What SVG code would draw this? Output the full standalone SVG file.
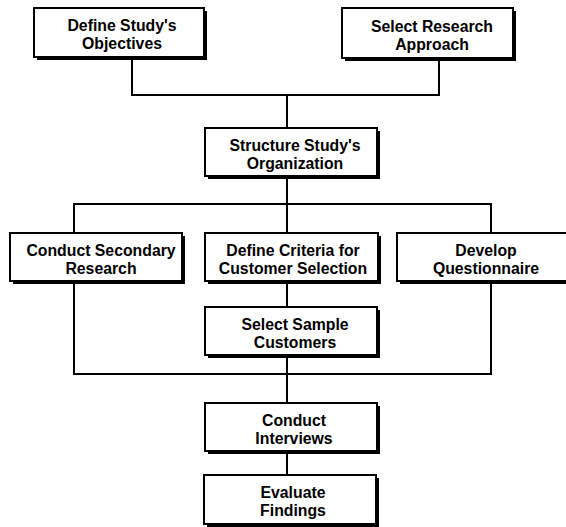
<svg xmlns="http://www.w3.org/2000/svg" width="566" height="527" viewBox="0 0 566 527">
<style>
.sh{fill:#000}
.bx{fill:#fff;stroke:#000;stroke-width:2}
.t{font-family:"Liberation Sans",Arial,sans-serif;font-weight:bold;font-size:15.8px;fill:#000;text-anchor:middle}
.c{fill:none;stroke:#000;stroke-width:2}
</style>
<rect width="566" height="527" fill="#fff"/>
<g id="connectors">
<path class="c" d="M132 58V95H439V59M287 95V127"/>
<path class="c" d="M287 177V232M74 232V204H491V232"/>
<path class="c" d="M74 282V374H491V282M287 282V306M287 356V402M287 452V474"/>
</g>
<g id="n1"><rect class="sh" x="37" y="11" width="170" height="49"/><rect class="bx" x="34" y="8" width="170" height="49"/>
<text class="t" x="122" y="31">Define Study's</text><text class="t" x="122" y="49">Objectives</text></g>
<g id="n2"><rect class="sh" x="345" y="11" width="171" height="50"/><rect class="bx" x="342" y="8" width="171" height="50"/>
<text class="t" x="432" y="31.5">Select Research</text><text class="t" x="432" y="49.5">Approach</text></g>
<g id="n3"><rect class="sh" x="208" y="131" width="172" height="48"/><rect class="bx" x="205" y="128" width="172" height="48"/>
<text class="t" x="295" y="150.5">Structure Study's</text><text class="t" x="295" y="168.5">Organization</text></g>
<g id="n4"><rect class="sh" x="13" y="236" width="172" height="48"/><rect class="bx" x="10" y="233" width="172" height="48"/>
<text class="t" x="101" y="255.5">Conduct Secondary</text><text class="t" x="101" y="273.5">Research</text></g>
<g id="n5"><rect class="sh" x="208" y="236" width="173" height="48"/><rect class="bx" x="205" y="233" width="173" height="48"/>
<text class="t" x="293" y="255.5">Define Criteria for</text><text class="t" x="293" y="273.5">Customer Selection</text></g>
<g id="n6"><rect class="sh" x="400" y="236" width="172" height="48"/><rect class="bx" x="397" y="233" width="172" height="48"/>
<text class="t" x="486" y="255.5">Develop</text><text class="t" x="486" y="273.5">Questionnaire</text></g>
<g id="n7"><rect class="sh" x="208" y="310" width="172" height="48"/><rect class="bx" x="205" y="307" width="172" height="48"/>
<text class="t" x="295" y="329.5">Select Sample</text><text class="t" x="295" y="347.5">Customers</text></g>
<g id="n8"><rect class="sh" x="208" y="406" width="172" height="48"/><rect class="bx" x="205" y="403" width="172" height="48"/>
<text class="t" x="294" y="425.5">Conduct</text><text class="t" x="294" y="443.5">Interviews</text></g>
<g id="n9"><rect class="sh" x="207" y="478" width="172" height="49"/><rect class="bx" x="204" y="475" width="172" height="49"/>
<text class="t" x="293" y="497.5">Evaluate</text><text class="t" x="293" y="515.5">Findings</text></g>
</svg>
